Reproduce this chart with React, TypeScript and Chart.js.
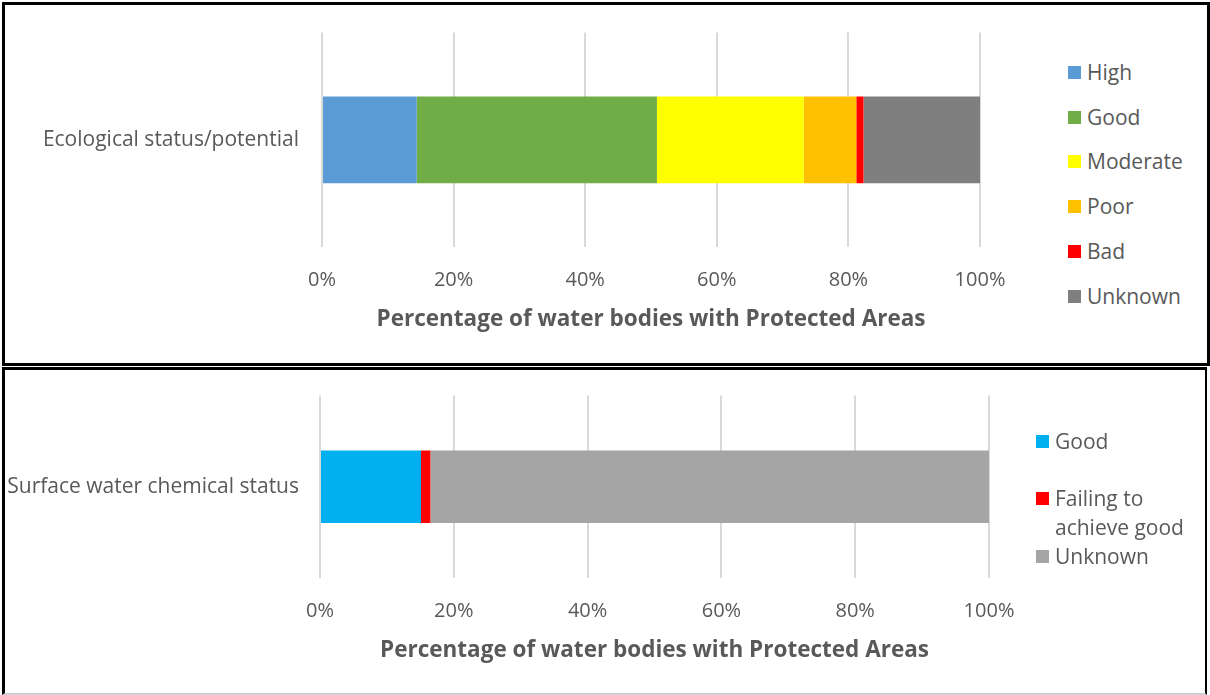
import React, { useEffect, useRef } from "react";
import { Chart, registerables } from "chart.js";

Chart.register(...registerables);

const FONT = "'Open Sans', 'Noto Sans', sans-serif";
const TEXT = "#595959";
const GRID = "#d9d9d9";

// Ecological status of water bodies with Protected Areas (percent shares)
const ecoCategories = ["Ecological status/potential"];
const ecoClasses = ["High", "Good", "Moderate", "Poor", "Bad", "Unknown"];
const ecoValues = [14.4, 36.5, 22.3, 8.0, 1.1, 17.7];
const ecoColors = ["#5B9BD5", "#70AD47", "#FFFF00", "#FFC000", "#FF0000", "#7F7F7F"];

// Surface water chemical status (percent shares)
const chemCategories = ["Surface water chemical status"];
const chemClasses = ["Good", "Failing to achieve good", "Unknown"];
const chemValues = [15.1, 1.4, 83.5];
const chemColors = ["#00B0F0", "#FF0000", "#A5A5A5"];

const xTicks = [0, 20, 40, 60, 80, 100];
const axisTitle = "Percentage of water bodies with Protected Areas";

type Layout = {
  width: number;
  height: number;
  yAxisWidth: number;
  padTop: number;
  padRight: number;
  xAxisHeight: number;
  barPct: number;
  yTickPad: number;
  xTickPad: number;
  titlePadBottom: number;
};

function StackedBar(props: {
  categories: string[];
  classes: string[];
  values: number[];
  colors: string[];
  layout: Layout;
}) {
  const ref = useRef<HTMLCanvasElement | null>(null);
  const { categories, classes, values, colors, layout } = props;

  useEffect(() => {
    if (!ref.current) return;
    const chart = new Chart(ref.current, {
      type: "bar",
      data: {
        labels: categories,
        datasets: classes.map((name, i) => ({
          label: name,
          data: [values[i]],
          backgroundColor: colors[i],
          borderWidth: 0,
          categoryPercentage: 1,
          barPercentage: layout.barPct,
        })),
      },
      options: {
        indexAxis: "y",
        animation: false,
        responsive: false,
        devicePixelRatio: 1,
        layout: {
          padding: { top: layout.padTop, right: layout.padRight, left: 0, bottom: 0 },
        },
        plugins: {
          legend: { display: false },
          tooltip: { enabled: false },
        },
        scales: {
          x: {
            type: "linear",
            stacked: true,
            min: 0,
            max: 100,
            afterBuildTicks: (scale: any) => {
              scale.ticks = xTicks.map((v) => ({ value: v }));
            },
            afterFit: (scale: any) => {
              scale.height = layout.xAxisHeight;
            },
            grid: { color: GRID, lineWidth: 2, drawTicks: false },
            border: { display: false },
            ticks: {
              color: TEXT,
              padding: layout.xTickPad,
              font: { family: FONT, size: 20 },
              callback: (v: any) => v + "%",
            },
            title: {
              display: true,
              text: axisTitle,
              color: TEXT,
              font: { family: FONT, size: 22.5, weight: "bold" },
              padding: { top: 0, bottom: layout.titlePadBottom },
            },
          },
          y: {
            type: "category",
            stacked: true,
            afterFit: (scale: any) => {
              scale.width = layout.yAxisWidth;
            },
            grid: { display: false },
            border: { display: false },
            ticks: {
              color: TEXT,
              padding: layout.yTickPad,
              font: { family: FONT, size: 21 },
            },
          },
        },
      },
    });
    return () => chart.destroy();
  }, []);

  return <canvas ref={ref} width={layout.width} height={layout.height} style={{ display: "block" }} />;
}

function Legend(props: {
  classes: string[];
  colors: string[];
  tops: number[];
  left: number;
  textWidth: number;
}) {
  const { classes, colors, tops, left, textWidth } = props;
  return (
    <div style={{ position: "absolute", left, top: 0 }}>
      {classes.map((name, i) => (
        <div
          key={name}
          style={{
            position: "absolute",
            left: 0,
            top: tops[i],
            display: "flex",
            alignItems: "flex-start",
          }}
        >
          <span
            style={{
              display: "inline-block",
              width: 13,
              height: 13,
              marginTop: 8,
              background: colors[i],
              flex: "0 0 auto",
            }}
          />
          <span
            style={{
              marginLeft: 6,
              width: textWidth,
              fontFamily: FONT,
              fontSize: 21,
              lineHeight: "29px",
              color: TEXT,
            }}
          >
            {name}
          </span>
        </div>
      ))}
    </div>
  );
}

export default function App() {
  return (
    <div
      style={{
        position: "absolute",
        left: 0,
        top: 0,
        width: 1210,
        height: 695,
        background: "#ffffff",
        overflow: "hidden",
      }}
    >
      <div
        style={{
          position: "absolute",
          left: 2,
          top: 2,
          width: 1208,
          height: 364,
          boxSizing: "border-box",
          border: "3px solid #000",
        }}
      >
        <div style={{ position: "absolute", left: 0, top: 0 }}>
          <StackedBar
            categories={ecoCategories}
            classes={ecoClasses}
            values={ecoValues}
            colors={ecoColors}
            layout={{
              width: 1040,
              height: 357,
              yAxisWidth: 317,
              padTop: 17,
              padRight: 65,
              xAxisHeight: 115,
              barPct: 0.405,
              yTickPad: 15,
              xTickPad: 21,
              titlePadBottom: 28.5,
            }}
          />
        </div>
        <Legend
          classes={ecoClasses}
          colors={ecoColors}
          tops={[53, 98, 142, 187, 232, 277]}
          left={1063}
          textWidth={130}
        />
      </div>
      <div
        style={{
          position: "absolute",
          left: 2,
          top: 367,
          width: 1205,
          height: 328,
          boxSizing: "border-box",
          borderLeft: "3px solid #000",
          borderTop: "3px solid #000",
          borderRight: "2px solid #000",
          borderBottom: "2px solid #d0d0d0",
        }}
      >
        <div style={{ position: "absolute", left: 0, top: 0 }}>
          <StackedBar
            categories={chemCategories}
            classes={chemClasses}
            values={chemValues}
            colors={chemColors}
            layout={{
              width: 1035,
              height: 320,
              yAxisWidth: 315,
              padTop: 19,
              padRight: 51,
              xAxisHeight: 112,
              barPct: 0.398,
              yTickPad: 13,
              xTickPad: 21,
              titlePadBottom: 25.5,
            }}
          />
        </div>
        <Legend
          classes={chemClasses}
          colors={chemColors}
          tops={[57, 114, 172]}
          left={1031}
          textWidth={145}
        />
      </div>
    </div>
  );
}
